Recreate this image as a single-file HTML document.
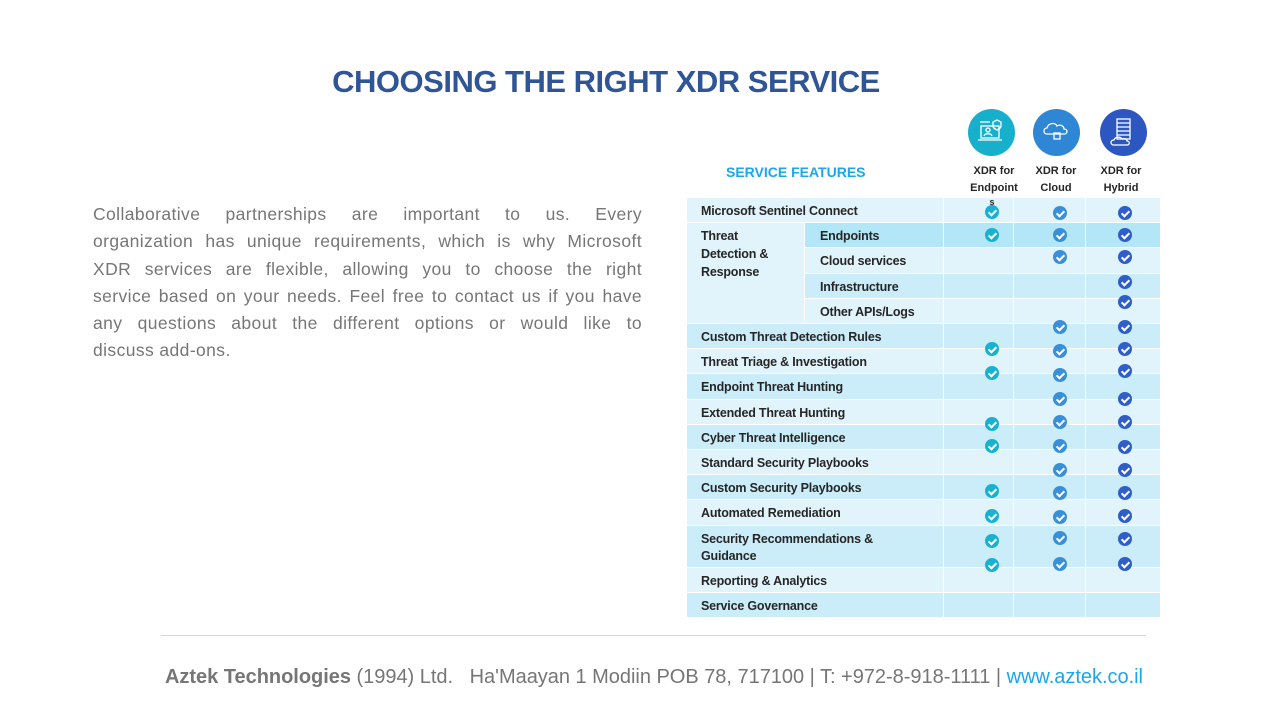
<!DOCTYPE html>
<html><head><meta charset="utf-8"><style>
*{margin:0;padding:0;box-sizing:border-box}
body{width:1280px;height:720px;background:#fff;position:relative;overflow:hidden;font-family:"Liberation Sans",sans-serif}
.a{position:absolute}
h1{position:absolute;left:0;width:1212px;top:64px;text-align:center;font-size:31px;color:#2f5597;font-weight:bold;letter-spacing:-0.5px}
.para{left:93px;top:201px;width:549px;font-size:17.5px;color:#767676;line-height:27.3px;letter-spacing:0.4px}
.para div{text-align:justify;text-align-last:justify;white-space:nowrap}
.para div.l{text-align-last:left}
.cell{position:absolute}
.t{position:absolute;font-size:12.5px;font-weight:bold;color:#262626;white-space:nowrap;letter-spacing:-0.2px}
.hd{position:absolute;font-size:11px;font-weight:bold;color:#262626;text-align:center;line-height:17px}
.chk{position:absolute;width:14px;height:14px;border-radius:50%}
.chk:after{content:"";position:absolute;left:4.5px;top:2.5px;width:3px;height:6px;border:solid #fff;border-width:0 2px 2px 0;transform:rotate(45deg)}
.ic{position:absolute;width:47px;height:47px;border-radius:50%}
</style></head><body>
<h1>CHOOSING THE RIGHT XDR SERVICE</h1>
<div class="a para">
<div>Collaborative partnerships are important to us. Every</div>
<div>organization has unique requirements, which is why Microsoft</div>
<div>XDR services are flexible, allowing you to choose the right</div>
<div>service based on your needs. Feel free to contact us if you have</div>
<div>any questions about the different options or would like to</div>
<div class="l">discuss add-ons.</div>
</div>
<div class="a" style="left:726px;top:164px;font-size:14px;font-weight:bold;color:#1aa7ea">SERVICE FEATURES</div>
<div class="ic" style="left:968px;top:109px;background:#16b0cc"><svg width="47" height="47"><g fill="none" stroke="#fff" stroke-width="1.3"><rect x="13" y="17" width="18" height="12"/><path d="M10 31h24"/><circle cx="20" cy="21" r="2"/><path d="M16 27c1-3 7-3 8 0"/><path d="M29 11l4 2v4c0 2-2 3-4 4-2-1-4-2-4-4v-4z"/><path d="M12 13h10"/></g></svg></div>
<div class="ic" style="left:1033px;top:109px;background:#2e86d4"><svg width="47" height="47"><g fill="none" stroke="#fff" stroke-width="1.3"><path d="M14 25c-4 0-4-6 0-6 1-5 8-6 10-2 3-2 7 0 7 3 4 0 4 5 0 5z"/><rect x="21" y="24" width="6" height="6"/></g></svg></div>
<div class="ic" style="left:1100px;top:109px;background:#2c56c0"><svg width="47" height="47"><g fill="none" stroke="#fff" stroke-width="1.3"><rect x="17" y="10" width="13" height="20"/><path d="M17 14h13M17 18h13M17 22h13M17 26h13"/><path d="M14 36c-4 0-4-5 0-5 1-3 6-4 8-1 2-1 5 0 5 2 3 0 3 4 0 4z"/></g></svg></div>
<div class="hd" style="left:962px;top:163px;width:64px">XDR for<br>Endpoint</div>
<div class="hd" style="left:1024px;top:163px;width:64px">XDR for<br>Cloud</div>
<div class="hd" style="left:1089px;top:163px;width:64px">XDR for<br>Hybrid</div>
<div id="tbl"></div>
<div class="hd" style="left:987px;top:198px;width:10px;font-size:9px;line-height:9px;z-index:5">s</div>
<div class="a" style="left:161px;top:635px;width:985px;height:1px;background:#d6d6d6"></div>
<div class="a" style="left:165px;top:666px;font-size:20px;color:#767676;white-space:nowrap;letter-spacing:-0.02px"><b>Aztek Technologies</b> (1994) Ltd.&nbsp;&nbsp; Ha'Maayan 1 Modiin POB 78, 717100 | T: +972-8-918-1111 | <span style="color:#1aa7ea">www.aztek.co.il</span></div>
<script>
var L='#e2f4fb',D='#cbedf9',E='#b3e6f6',h='';
var rows=[[198,223,L,'Microsoft Sentinel Connect'],[324,349,D,'Custom Threat Detection Rules'],[349,374,L,'Threat Triage & Investigation'],[374,400,D,'Endpoint Threat Hunting'],[400,425,L,'Extended Threat Hunting'],[425,450,D,'Cyber Threat Intelligence'],[450,475,L,'Standard Security Playbooks'],[475,500,D,'Custom Security Playbooks'],[500,526,L,'Automated Remediation'],[526,568,D,'Security Recommendations &amp;<br>Guidance'],[568,593,L,'Reporting & Analytics'],[593,618,D,'Service Governance']];
var cols=[[687,943],[944,1013],[1014,1085],[1086,1160]];
function c(x1,x2,y1,y2,col){h+='<div class="cell" style="left:'+x1+'px;top:'+y1+'px;width:'+(x2-x1)+'px;height:'+(y2-y1-1)+'px;background:'+col+'"></div>';}
rows.forEach(function(r){cols.forEach(function(k){c(k[0],k[1],r[0],r[1],r[2]);});h+='<div class="t" style="left:701px;top:'+(r[0]+5)+'px;line-height:17px">'+r[3]+'</div>';});
c(687,804,223,324,L);h+='<div class="t" style="left:701px;top:227px;line-height:18px">Threat<br>Detection &amp;<br>Response</div>';
var sub=[[223,248,E,'Endpoints'],[248,274,L,'Cloud services'],[274,299,D,'Infrastructure'],[299,324,L,'Other APIs/Logs']];
sub.forEach(function(r){c(805,943,r[0],r[1],r[2]);for(var i=1;i<4;i++)c(cols[i][0],cols[i][1],r[0],r[1],r[2]);h+='<div class="t" style="left:820px;top:'+(r[0]+5)+'px;line-height:17px">'+r[3]+'</div>';});
var ch=[[992,'#17b2cf',[212,235,349,373,424,446,491,516,541,565]],[1060,'#3a8fd9',[213,235,257,327,351,375,399,422,446,470,493,517,538,564]],[1125,'#2f5ec8',[213,235,257,282,302,327,349,371,399,422,447,470,493,516,539,564]]];
ch.forEach(function(k){k[2].forEach(function(y){h+='<div class="chk" style="left:'+(k[0]-7)+'px;top:'+(y-7)+'px;background:'+k[1]+'"></div>';});});
document.getElementById('tbl').innerHTML=h;
</script>
</body></html>
